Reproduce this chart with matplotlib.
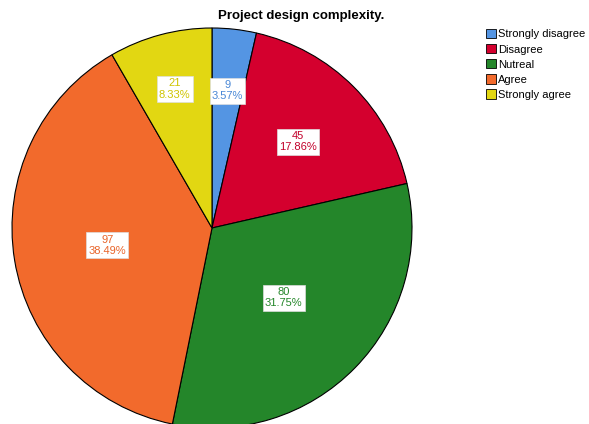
import matplotlib
matplotlib.use("Agg")
import matplotlib.pyplot as plt
import numpy as np

categories = ["Strongly disagree", "Disagree", "Nutreal", "Agree", "Strongly agree"]
counts = [9, 45, 80, 97, 21]
colors = ["#5495e3", "#d4002e", "#24862a", "#f26a2c", "#e2d712"]
text_colors = ["#4a88d6", "#c2002a", "#24862a", "#e8642a", "#cfc400"]
label_radius = [0.69, 0.61, 0.50, 0.53, 0.72]

plt.rcParams['font.family'] = ['Liberation Sans', 'DejaVu Sans']

fig = plt.figure(figsize=(5.89, 4.24), dpi=100)
W, H = 589, 424
cx, cy, R = 212, 228, 200
ax = fig.add_axes([(cx - R) / W, (H - cy - R) / H, 2 * R / W, 2 * R / H])

wedges, _ = ax.pie(counts, colors=colors, startangle=90, counterclock=False,
                   radius=1, wedgeprops=dict(edgecolor='black', linewidth=0.8))
ax.set_xlim(-1, 1)
ax.set_ylim(-1, 1)
ax.set_aspect('equal')
ax.axis('off')
for w in wedges:
    w.set_clip_on(False)

total = sum(counts)
cum = 0
for i, c in enumerate(counts):
    mid = (cum + c / 2) / total * 2 * np.pi
    cum += c
    r = label_radius[i]
    x, y = r * np.sin(mid), r * np.cos(mid)
    ax.text(x, y, f"{c}\n{c / total * 100:.2f}%", ha='center', va='center',
            fontsize=8, color=text_colors[i], linespacing=1.15,
            bbox=dict(boxstyle='square,pad=0.2', facecolor='white', edgecolor='#dddddd', linewidth=0.5))

fig.text(301 / W, 1 - 16 / H, "Project design complexity.", ha='center', va='center',
         fontsize=9.5, fontweight='bold')

handles = [plt.Rectangle((0, 0), 1, 1, facecolor=col, edgecolor='black', linewidth=0.6) for col in colors]
fig.legend(handles, categories, loc='upper left', bbox_to_anchor=(486 / W, 1 - 29 / H),
           frameon=False, fontsize=8, handlelength=0.9, handleheight=0.9,
           handletextpad=0.2, labelspacing=0.42, borderpad=0, borderaxespad=0)

fig.savefig("out.png", dpi=100)
